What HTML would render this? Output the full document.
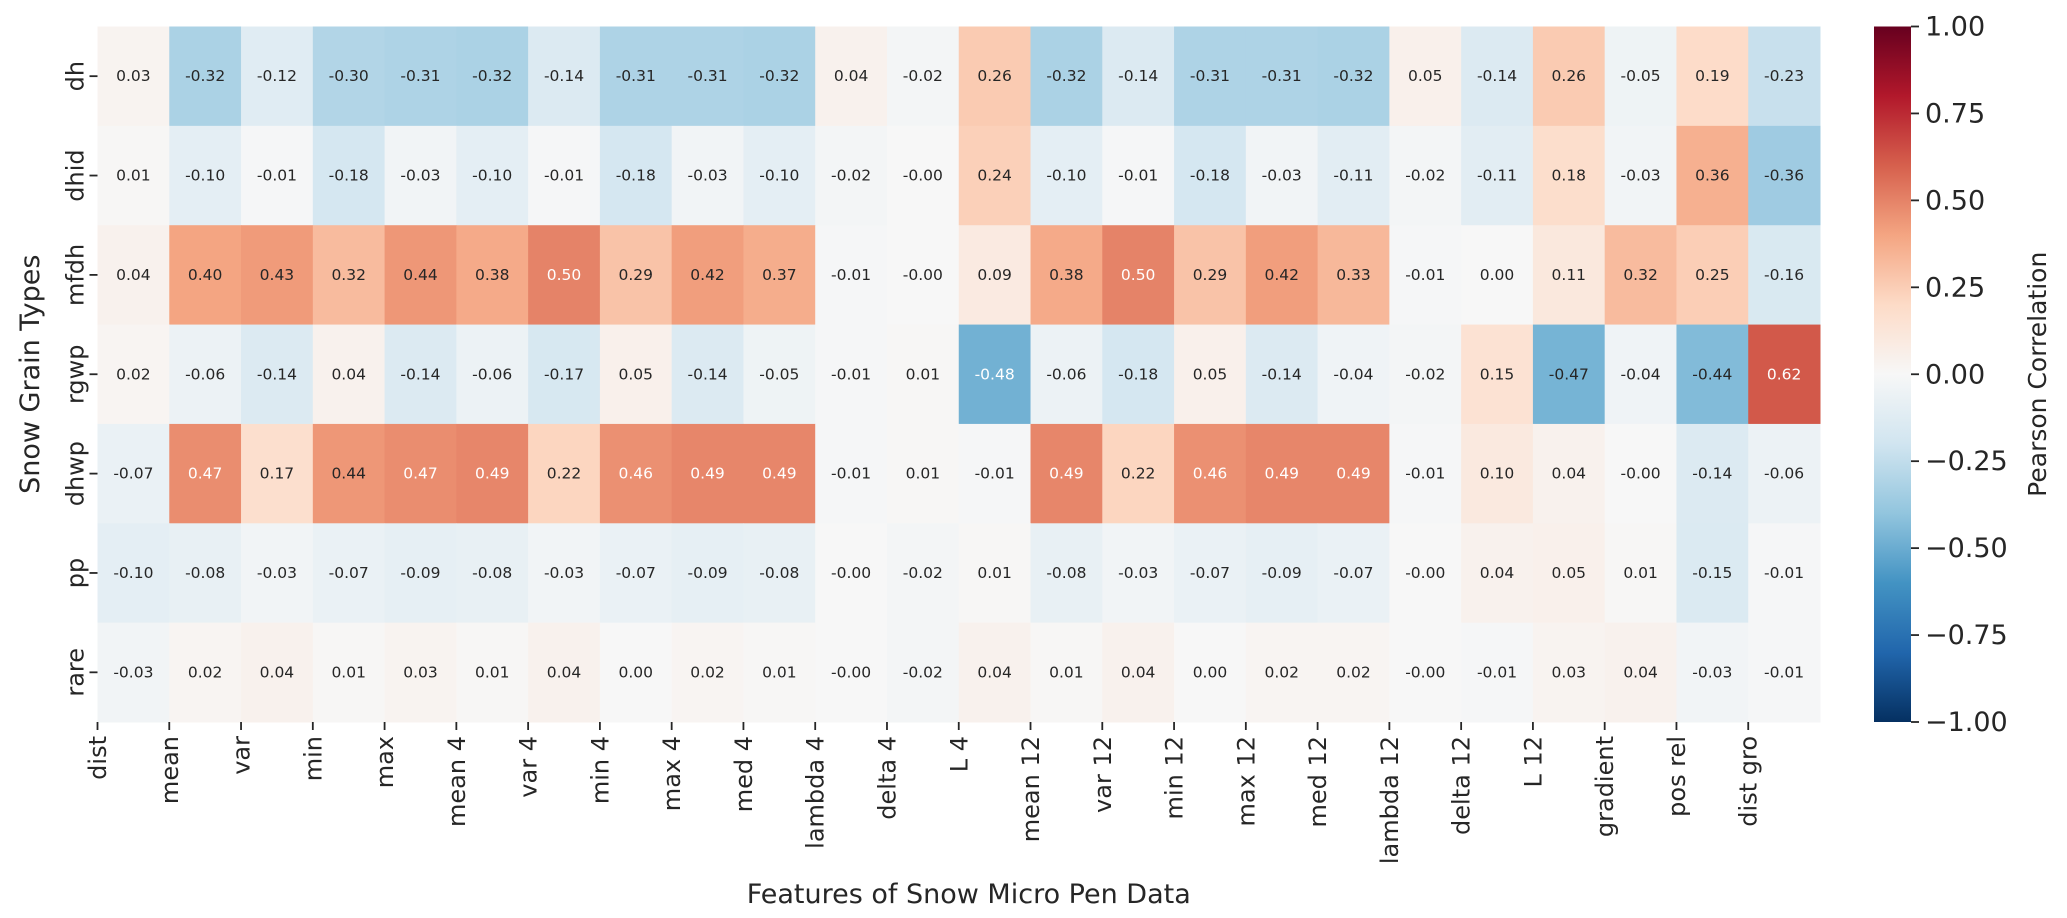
<!DOCTYPE html>
<html><head><meta charset="utf-8"><style>
html,body{margin:0;padding:0;background:#fff;width:2067px;height:918px;overflow:hidden}
svg{display:block;font-family:"DejaVu Sans","Liberation Sans",sans-serif}
</style></head><body>
<svg id="chart" width="2067" height="918" viewBox="0 0 2067 918" xmlns="http://www.w3.org/2000/svg">
<defs>
<linearGradient id="cbgrad" x1="0" y1="1" x2="0" y2="0">
<stop offset="0" stop-color="#053061"/><stop offset="0.1" stop-color="#2166ac"/><stop offset="0.2" stop-color="#4393c3"/><stop offset="0.3" stop-color="#92c5de"/><stop offset="0.4" stop-color="#d1e5f0"/><stop offset="0.5" stop-color="#f7f7f7"/><stop offset="0.6" stop-color="#fddbc7"/><stop offset="0.7" stop-color="#f4a582"/><stop offset="0.8" stop-color="#d6604d"/><stop offset="0.9" stop-color="#b2182b"/><stop offset="1" stop-color="#67001f"/>
</linearGradient>
</defs>
<g id="cells"></g>
<g id="axes"></g>
</svg>
<script>
const features = ["dist","mean","var","min","max","mean 4","var 4","min 4","max 4","med 4","lambda 4","delta 4","L 4","mean 12","var 12","min 12","max 12","med 12","lambda 12","delta 12","L 12","gradient","pos rel","dist gro"];
const grainTypes = ["dh","dhid","mfdh","rgwp","dhwp","pp","rare"];
const rowDh = [0.03,-0.32,-0.12,-0.30,-0.31,-0.32,-0.14,-0.31,-0.31,-0.32,0.04,-0.02,0.26,-0.32,-0.14,-0.31,-0.31,-0.32,0.05,-0.14,0.26,-0.05,0.19,-0.23];
const rowDhid = [0.01,-0.10,-0.01,-0.18,-0.03,-0.10,-0.01,-0.18,-0.03,-0.10,-0.02,-0,0.24,-0.10,-0.01,-0.18,-0.03,-0.11,-0.02,-0.11,0.18,-0.03,0.36,-0.36];
const rowMfdh = [0.04,0.40,0.43,0.32,0.44,0.38,0.50,0.29,0.42,0.37,-0.01,-0,0.09,0.38,0.50,0.29,0.42,0.33,-0.01,0.00,0.11,0.32,0.25,-0.16];
const rowRgwp = [0.02,-0.06,-0.14,0.04,-0.14,-0.06,-0.17,0.05,-0.14,-0.05,-0.01,0.01,-0.48,-0.06,-0.18,0.05,-0.14,-0.04,-0.02,0.15,-0.47,-0.04,-0.44,0.62];
const rowDhwp = [-0.07,0.47,0.17,0.44,0.47,0.49,0.22,0.46,0.49,0.49,-0.01,0.01,-0.01,0.49,0.22,0.46,0.49,0.49,-0.01,0.10,0.04,-0,-0.14,-0.06];
const rowPp = [-0.10,-0.08,-0.03,-0.07,-0.09,-0.08,-0.03,-0.07,-0.09,-0.08,-0,-0.02,0.01,-0.08,-0.03,-0.07,-0.09,-0.07,-0,0.04,0.05,0.01,-0.15,-0.01];
const rowRare = [-0.03,0.02,0.04,0.01,0.03,0.01,0.04,0.00,0.02,0.01,-0,-0.02,0.04,0.01,0.04,0.00,0.02,0.02,-0,-0.01,0.03,0.04,-0.03,-0.01];
const matrix = [rowDh,rowDhid,rowMfdh,rowRgwp,rowDhwp,rowPp,rowRare];
const cbTicks = [1.00,0.75,0.50,0.25,0.00,-0.25,-0.50,-0.75,-1.00];

const NS="http://www.w3.org/2000/svg";
const L=97.5,R=1820,T=26.5,B=722;
const cw=(R-L)/features.length, rh=(B-T)/grainTypes.length;
const xPos=i=>L+i*cw, yPos=j=>T+j*rh;
const cbX=1874,cbW=37,cbT=26.5,cbB=722;
const cbY=v=>cbT+(1-v)/2*(cbB-cbT);
const stops=["#053061","#2166ac","#4393c3","#92c5de","#d1e5f0","#f7f7f7","#fddbc7","#f4a582","#d6604d","#b2182b","#67001f"].map(h=>[1,3,5].map(k=>parseInt(h.substr(k,2),16)));
function cmap(v){let t=(v+1)/2*10;t=Math.max(0,Math.min(10,t));let i=Math.min(9,Math.floor(t)),f=t-i;return stops[i].map((c,k)=>Math.round(c+(stops[i+1][k]-c)*f));}
function lum(c){const s=c.map(x=>{x/=255;return x<=0.03928?x/12.92:Math.pow((x+0.055)/1.055,2.4)});return 0.2126*s[0]+0.7152*s[1]+0.0722*s[2];}
function fmt(v){const s=Math.abs(v).toFixed(2);return (v<0||Object.is(v,-0))?"-"+s:s;}
function mk(tag,attrs,parent,text){const e=document.createElementNS(NS,tag);for(const k in attrs)e.setAttribute(k,attrs[k]);if(text!==undefined)e.textContent=text;parent.appendChild(e);return e;}
const cells=document.getElementById('cells'), axes=document.getElementById('axes');
matrix.forEach((row,j)=>row.forEach((v,i)=>{
  const c=cmap(v);
  const r=mk('rect',{x:xPos(i),y:yPos(j),width:cw+0.5,height:rh+0.5,fill:`rgb(${c})`},cells);
  
  
  const t=mk('text',{x:xPos(i)+cw/2,y:yPos(j)+rh/2+5,'text-anchor':'middle','font-size':15.5,fill:lum(c)>0.408?'#262626':'#ffffff'},cells,fmt(v));
  
  
}));
features.forEach((f,i)=>{
  const x=xPos(i);
  mk('line',{x1:x,y1:B,x2:x,y2:B+8,stroke:'#262626','stroke-width':1.8},axes);
  const t=mk('text',{transform:`translate(${x+8.5},${B+14}) rotate(-90)`,'text-anchor':'end','font-size':24,fill:'#262626'},axes,f);
  
  
});
grainTypes.forEach((g,j)=>{
  const y=yPos(j)+rh/2;
  mk('line',{x1:L-8,y1:y,x2:L,y2:y,stroke:'#262626','stroke-width':1.8},axes);
  const t=mk('text',{transform:`translate(${L-14},${y}) rotate(-90)`,'text-anchor':'middle','font-size':24,fill:'#262626'},axes,g);
  
  
});
const xt=mk('text',{x:(L+R)/2+10,y:903,'text-anchor':'middle','font-size':27,fill:'#262626'},axes,'Features of Snow Micro Pen Data');


const yt=mk('text',{transform:`translate(39,${(T+B)/2}) rotate(-90)`,'text-anchor':'middle','font-size':27,fill:'#262626'},axes,'Snow Grain Types');


const cb=mk('rect',{x:cbX,y:cbT,width:cbW,height:cbB-cbT,fill:'url(#cbgrad)'},axes);


cbTicks.forEach(v=>{
  const y=cbY(v);
  mk('line',{x1:cbX+cbW,y1:y,x2:cbX+cbW+8,y2:y,stroke:'#262626','stroke-width':1.8},axes);
  const t=mk('text',{x:cbX+cbW+14,y:y+9,'font-size':27,fill:'#262626'},axes,(v<0?'\u2212':'')+Math.abs(v).toFixed(2));
  
  
});
const ct=mk('text',{transform:`translate(2046,${(cbT+cbB)/2}) rotate(-90)`,'text-anchor':'middle','font-size':25,fill:'#262626'},axes,'Pearson Correlation');


</script>
</body></html>
